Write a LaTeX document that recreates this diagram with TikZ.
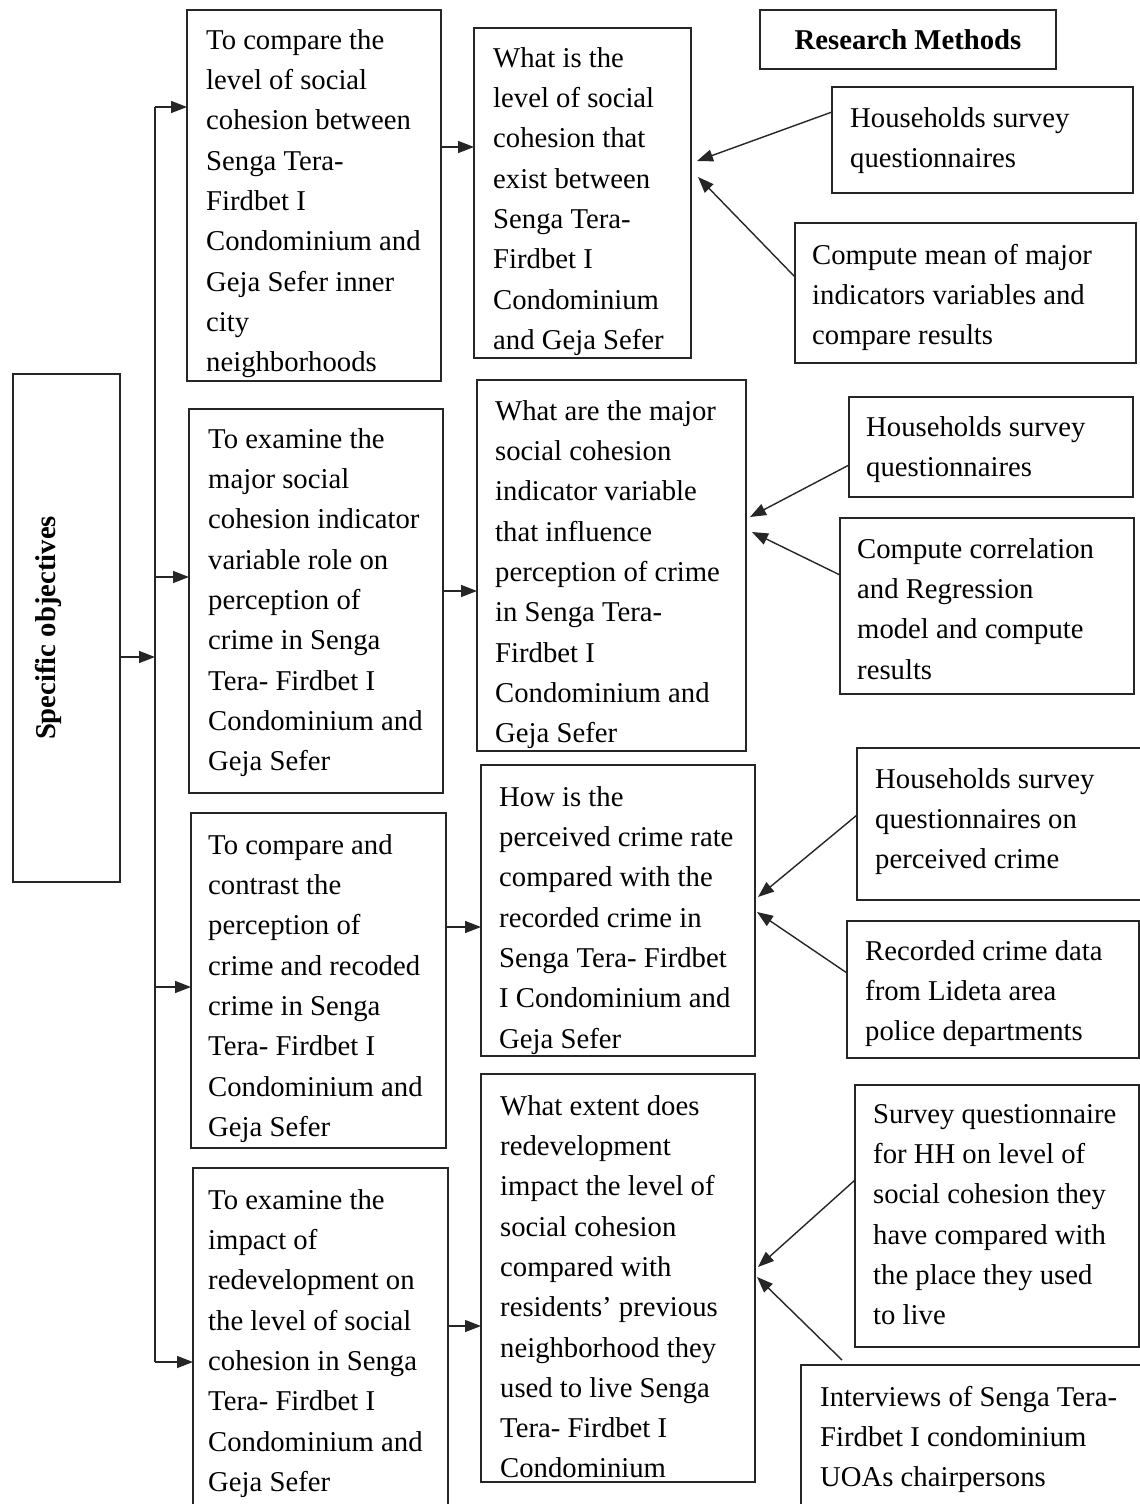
\documentclass[tikz,border=0pt]{standalone}
\usepackage{fontspec}
\setmainfont{Liberation Serif}
\usetikzlibrary{arrows.meta,calc}
\newcommand\mybox[5]{\node[box, minimum width={(#4-#2)*1pt}, minimum height={(#5-#3)*1pt}] (#1) at ({(#2+#4)/2},{(#3+#5)/2}) {};}
\begin{document}
\begin{tikzpicture}[x=1pt,y=-1pt,
  box/.style={draw=black!85, line width=1.5pt, rectangle, inner sep=0pt, outer sep=0pt},
  txt/.style={align=left, inner sep=0pt, anchor=north west, font={\fontsize{28.7pt}{40.3pt}\selectfont}, text=black},
  hd/.style={inner sep=0pt, font={\fontsize{28.7pt}{34pt}\selectfont\bfseries}, text=black},
  arr/.style={line width=1.4pt, draw=black!85, arrows={-Triangle[length=16pt,width=12pt]}},
  ln/.style={line width=1.5pt, draw=black!85}]
\useasboundingbox (0,0) rectangle (1140,1504);
\clip (0,0) rectangle (1140,1504);
\fill[white] (0,0) rectangle (1140,1504);

% boxes
\mybox{so}{13}{374}{120}{882}
\mybox{o1}{187}{10}{441}{381}
\mybox{o2}{189}{409}{443}{793}
\mybox{o3}{191}{813}{446}{1148}
\mybox{o4}{193}{1168}{448}{1512}
\mybox{q1}{474}{28}{691}{358}
\mybox{q2}{477}{380}{746}{751}
\mybox{q3}{481}{765}{755}{1056}
\mybox{q4}{481}{1074}{755}{1482}
\mybox{rm}{760}{10}{1056}{69}
\mybox{m1a}{832}{87}{1133}{193}
\mybox{m1b}{795}{223}{1136}{363}
\mybox{m2a}{849}{397}{1133}{497}
\mybox{m2b}{840}{518}{1134}{694}
\mybox{m3a}{857}{748}{1148}{900}
\mybox{m3b}{847}{921}{1139}{1058}
\mybox{m4a}{855}{1085}{1139}{1347}
\mybox{m4b}{801}{1365}{1148}{1512}

% headings
\node[hd, rotate=90] (sot) at (48,628) {Specific objectives};
\node[hd] (rmt) at (908,40) {Research Methods};

% objective texts
\node[txt] (o1t) at (206,28) {\rule{0pt}{21pt}To compare the\\level of social\\cohesion between\\Senga Tera-\\Firdbet I\\Condominium and\\Geja Sefer inner\\city\\neighborhoods};
\node[txt] (o2t) at (208,427) {\rule{0pt}{21pt}To examine the\\major social\\cohesion indicator\\variable role on\\perception of\\crime in Senga\\Tera- Firdbet I\\Condominium and\\Geja Sefer};
\node[txt] (o3t) at (208,833) {\rule{0pt}{21pt}To compare and\\contrast the\\perception of\\crime and recoded\\crime in Senga\\Tera- Firdbet I\\Condominium and\\Geja Sefer};
\node[txt] (o4t) at (208,1188) {\rule{0pt}{21pt}To examine the\\impact of\\redevelopment on\\the level of social\\cohesion in Senga\\Tera- Firdbet I\\Condominium and\\Geja Sefer};

% question texts
\node[txt] (q1t) at (493,46) {\rule{0pt}{21pt}What is the\\level of social\\cohesion that\\exist between\\Senga Tera-\\Firdbet I\\Condominium\\and Geja Sefer};
\node[txt] (q2t) at (495,399) {\rule{0pt}{21pt}What are the major\\social cohesion\\indicator variable\\that influence\\perception of crime\\in Senga Tera-\\Firdbet I\\Condominium and\\Geja Sefer};
\node[txt] (q3t) at (499,785) {\rule{0pt}{21pt}How is the\\perceived crime rate\\compared with the\\recorded crime in\\Senga Tera- Firdbet\\I Condominium and\\Geja Sefer};
\node[txt] (q4t) at (500,1094) {\rule{0pt}{21pt}What extent does\\redevelopment\\impact the level of\\social cohesion\\compared with\\residents’ previous\\neighborhood they\\used to live Senga\\Tera- Firdbet I\\Condominium};

% method texts
\node[txt] (m1at) at (850,106) {\rule{0pt}{21pt}Households survey\\questionnaires};
\node[txt] (m1bt) at (812,243) {\rule{0pt}{21pt}Compute mean of major\\indicators variables and\\compare results};
\node[txt] (m2at) at (866,415) {\rule{0pt}{21pt}Households survey\\questionnaires};
\node[txt] (m2bt) at (857,537) {\rule{0pt}{21pt}Compute correlation\\and Regression\\model and compute\\results};
\node[txt] (m3at) at (875,767) {\rule{0pt}{21pt}Households survey\\questionnaires on\\perceived crime};
\node[txt] (m3bt) at (865,939) {\rule{0pt}{21pt}Recorded crime data\\from Lideta area\\police departments};
\node[txt] (m4at) at (873,1102) {\rule{0pt}{21pt}Survey questionnaire\\for HH on level of\\social cohesion they\\have compared with\\the place they used\\to live};
\node[txt] (m4bt) at (820,1385) {\rule{0pt}{21pt}Interviews of Senga Tera-\\Firdbet I condominium\\UOAs chairpersons};

% spine
\coordinate (s0) at (155,657);
\coordinate (s1) at (155,107);
\coordinate (s2) at (155,577);
\coordinate (s3) at (155,987);
\coordinate (s4) at (155,1362);
\draw[ln] (s1) -- (s4);
\draw[arr] (so.east |- s0) -- (s0);
\draw[arr] (s1) -- (s1 -| o1.west);
\draw[arr] (s2) -- (s2 -| o2.west);
\draw[arr] (s3) -- (s3 -| o3.west);
\draw[arr] (s4) -- (s4 -| o4.west);

% objectives to questions
\draw[arr] (o1.east |- 0,147) -- (q1.west |- 0,147);
\draw[arr] (o2.east |- 0,591) -- (q2.west |- 0,591);
\draw[arr] (o3.east |- 0,927) -- (q3.west |- 0,927);
\draw[arr] (o4.east |- 0,1326) -- (q4.west |- 0,1326);

% methods to questions
\coordinate (t1a) at (697,161);
\coordinate (t1b) at (698,177);
\coordinate (t2a) at (750,517);
\coordinate (t2b) at (752,532);
\coordinate (t3a) at (758,897);
\coordinate (t3b) at (757,912);
\coordinate (t4a) at (758,1267);
\coordinate (t4b) at (757,1277);
\coordinate (f4b) at (842,1360);
\draw[arr] (m1a.west |- 0,112) -- (t1a);
\draw[arr] (m1b.west |- 0,277) -- (t1b);
\draw[arr] (m2a.west |- 0,465) -- (t2a);
\draw[arr] (m2b.west |- 0,575) -- (t2b);
\draw[arr] (m3a.west |- 0,815) -- (t3a);
\draw[arr] (m3b.west |- 0,973) -- (t3b);
\draw[arr] (m4a.west |- 0,1180) -- (t4a);
\draw[arr] (f4b) -- (t4b);
\end{tikzpicture}
\end{document}
